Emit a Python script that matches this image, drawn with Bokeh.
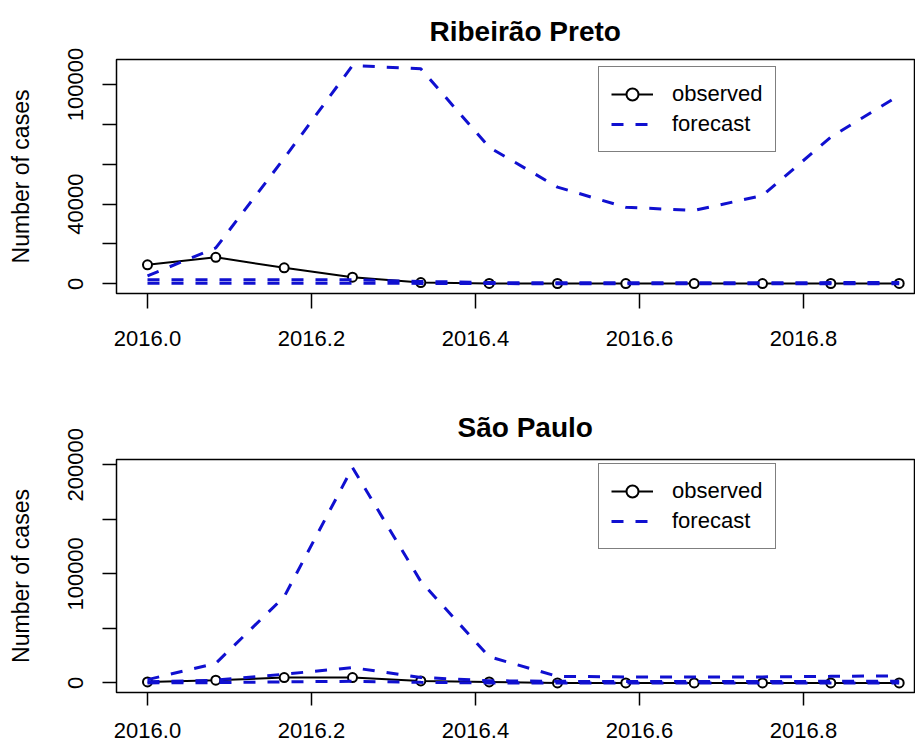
from bokeh.plotting import figure
from bokeh.layouts import column
from bokeh.models import Range1d, FixedTicker, PrintfTickFormatter, Legend, LegendItem
from bokeh.embed import file_html
from bokeh.resources import INLINE

# ---- data ----
months = [2016.0, 2016.0833, 2016.1667, 2016.25, 2016.3333, 2016.4167,
          2016.5, 2016.5833, 2016.6667, 2016.75, 2016.8333, 2016.9167]

rp_observed = [9500, 13300, 8000, 3300, 600, 200, 150, 100, 100, 100, 150, 200]
rp_upper = [4000, 18000, 63000, 109500, 107900, 68500, 48500, 38400, 36800, 44300, 73600, 94500]
rp_mean = [2000, 2000, 2000, 2000, 1200, 600, 500, 500, 500, 500, 600, 700]
rp_lower = [300, 300, 300, 300, 200, 100, 50, 50, 50, 50, 50, 50]

sp_observed = [900, 2500, 4900, 4900, 1800, 900, 0, 0, 0, 0, 0, 0]
sp_upper = [3000, 18000, 79000, 197500, 93000, 24000, 6000, 5500, 5500, 5500, 6000, 6500]
sp_mean = [1000, 2500, 8000, 14000, 5000, 2000, 1500, 1200, 1200, 1200, 1500, 1500]
sp_lower = [0, 300, 1000, 1500, 500, 0, 0, 0, 0, 0, 0, 0]

x_ticks = [2016.0, 2016.2, 2016.4, 2016.6, 2016.8]
rp_y_ticks = [0, 20000, 40000, 60000, 80000, 100000]
rp_y_hidden = [20000, 60000, 80000]
sp_y_ticks = [0, 50000, 100000, 150000, 200000]
sp_y_hidden = [50000, 150000]

FONT = "Liberation Sans"
BLUE = "#1010d0"


def panel(title, title_offset, title_standoff, observed, upper, mean, lower, y_range,
          y_ticks, y_hidden, height, border_top, border_bottom, legend_y,
          x_tick_out, x_standoff):
    p = figure(width=915, height=height, output_backend="svg", toolbar_location=None,
               x_range=Range1d(2015.9622, 2016.9366), y_range=Range1d(*y_range),
               min_border_left=116, min_border_right=0,
               min_border_top=border_top, min_border_bottom=border_bottom)
    p.title.text = title
    p.title.text_font = FONT
    p.title.text_font_style = "bold"
    p.title.text_font_size = "28px"
    p.title.text_color = "black"
    p.title.align = "left"
    p.title.offset = title_offset
    p.title.standoff = title_standoff

    p.xgrid.visible = False
    p.ygrid.visible = False
    p.outline_line_color = "black"
    p.outline_line_width = 1.5
    p.background_fill_color = "white"
    p.border_fill_color = "white"

    xa = p.xaxis[0]
    xa.ticker = FixedTicker(ticks=x_ticks)
    xa.formatter = PrintfTickFormatter(format="%.1f")
    xa.axis_line_color = None
    xa.major_tick_out = x_tick_out
    xa.major_tick_in = 0
    xa.minor_tick_out = 0
    xa.minor_tick_in = 0
    xa.major_tick_line_width = 1.5
    xa.major_tick_line_color = "black"
    xa.major_label_standoff = x_standoff
    xa.major_label_text_font = FONT
    xa.major_label_text_font_size = "22px"
    xa.major_label_text_color = "black"

    ya = p.yaxis[0]
    ya.ticker = FixedTicker(ticks=y_ticks)
    ya.formatter = PrintfTickFormatter(format="%d")
    ya.major_label_overrides = {v: "" for v in y_hidden}
    ya.axis_line_color = None
    ya.major_tick_out = 14
    ya.major_tick_in = 0
    ya.minor_tick_out = 0
    ya.minor_tick_in = 0
    ya.major_tick_line_width = 1.5
    ya.major_tick_line_color = "black"
    ya.major_label_orientation = "vertical"
    ya.major_label_standoff = 19
    ya.major_label_text_font = FONT
    ya.major_label_text_font_size = "22px"
    ya.major_label_text_color = "black"
    ya.axis_label = "Number of cases"
    ya.axis_label_text_font = FONT
    ya.axis_label_text_font_size = "23px"
    ya.axis_label_text_font_style = "normal"
    ya.axis_label_text_color = "black"
    ya.axis_label_standoff = 32

    l_obs = p.line(months, observed, line_color="black", line_width=2)
    c_obs = p.scatter(months, observed, marker="circle", size=9,
                      fill_color="white", line_color="black", line_width=2)
    l_up = p.line(months, upper, line_color=BLUE, line_width=3, line_dash="12 12")
    p.line(months, mean, line_color=BLUE, line_width=3, line_dash="12 12")
    p.line(months, lower, line_color=BLUE, line_width=3, line_dash="12 12")

    legend = Legend(items=[LegendItem(label="observed", renderers=[l_obs, c_obs]),
                           LegendItem(label="forecast", renderers=[l_up])],
                    location=(482, legend_y))
    legend.border_line_color = "black"
    legend.border_line_width = 1.5
    legend.background_fill_color = "white"
    legend.background_fill_alpha = 1.0
    legend.label_text_font = FONT
    legend.label_text_font_size = "22px"
    legend.label_text_color = "black"
    legend.glyph_width = 42
    legend.glyph_height = 30
    legend.label_height = 30
    legend.label_standoff = 19
    legend.padding = 12
    legend.spacing = 0
    legend.margin = 0
    p.add_layout(legend)
    return p


p1 = panel("Ribeirão Preto", 313, 26, rp_observed, rp_upper, rp_mean, rp_lower,
           (-4870, 112540), rp_y_ticks, rp_y_hidden,
           376, 59, 83, 141, 15, 22)
p2 = panel("São Paulo", 341, 33, sp_observed, sp_upper, sp_mean, sp_lower,
           (-8790, 204850), sp_y_ticks, sp_y_hidden,
           370, 83, 54, 143, 13, 17)

layout = column(p1, p2)
open("out.html", "w").write(file_html(layout, INLINE))
